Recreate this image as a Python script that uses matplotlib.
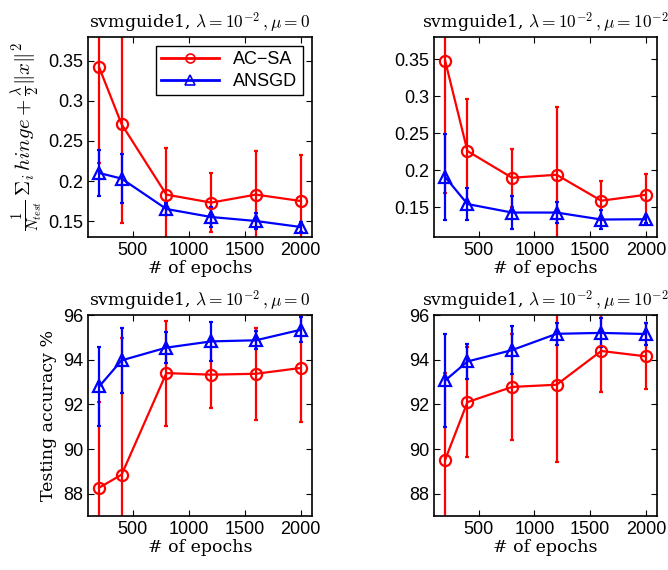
import numpy as np
import matplotlib
matplotlib.use('Agg')
import matplotlib.pyplot as plt
from matplotlib.lines import Line2D

# ----------------------------
# data
# ----------------------------
epochs = [200, 400, 800, 1200, 1600, 2000]

# objective, mu = 0
obj0_acsa      = [0.342, 0.271, 0.183, 0.173, 0.183, 0.175]
obj0_acsa_err  = [0.120, 0.124, 0.058, 0.037, 0.055, 0.058]
obj0_ansgd     = [0.210, 0.203, 0.165, 0.155, 0.150, 0.1425]
obj0_ansgd_err = [0.029, 0.031, 0.008, 0.013, 0.010, 0.006]

# objective, mu = 1e-2
obj1_acsa      = [0.348, 0.226, 0.190, 0.194, 0.159, 0.167]
obj1_acsa_err  = [0.178, 0.070, 0.039, 0.092, 0.026, 0.028]
obj1_ansgd     = [0.191, 0.1545, 0.143, 0.143, 0.1336, 0.134]
obj1_ansgd_err = [0.058, 0.021, 0.022, 0.014, 0.013, 0.005]

# accuracy, mu = 0
acc0_acsa      = [88.27, 88.85, 93.40, 93.33, 93.37, 93.63]
acc0_acsa_err  = [3.83, 6.10, 2.35, 1.50, 2.07, 2.40]
acc0_ansgd     = [92.80, 93.97, 94.54, 94.82, 94.87, 95.34]
acc0_ansgd_err = [1.75, 1.45, 0.70, 0.88, 0.40, 0.55]

# accuracy, mu = 1e-2
acc1_acsa      = [89.52, 92.10, 92.78, 92.88, 94.39, 94.15]
acc1_acsa_err  = [3.88, 2.45, 2.38, 3.46, 1.84, 1.48]
acc1_ansgd     = [93.07, 93.92, 94.43, 95.16, 95.20, 95.15]
acc1_ansgd_err = [2.10, 0.80, 1.08, 0.50, 0.65, 0.50]

titles = [r'svmguide1, $\lambda = 10^{-2}\,, \mu = 0$',
          r'svmguide1, $\lambda = 10^{-2}\,, \mu = 10^{-2}$']
obj_ylabel = r'$\frac{1}{N_{test}}\,\Sigma_i\, hinge + \frac{\lambda}{2}\|x\|^2$'
acc_ylabel = 'Testing accuracy %'

plt.rcParams['mathtext.fontset'] = 'cm'
plt.rcParams['font.family'] = ['Liberation Sans', 'DejaVu Sans']

fig = plt.figure(figsize=(6.68, 5.70), dpi=100)
positions = [
    [0.1317, 0.5842, 0.3353, 0.3509],
    [0.6497, 0.5842, 0.3338, 0.3509],
    [0.1317, 0.0947, 0.3353, 0.3526],
    [0.6497, 0.0947, 0.3338, 0.3526],
]
panels = [
    (obj0_acsa, obj0_acsa_err, obj0_ansgd, obj0_ansgd_err, (0.13, 0.38), [0.15, 0.2, 0.25, 0.3, 0.35], ['0.15', '0.2', '0.25', '0.3', '0.35']),
    (obj1_acsa, obj1_acsa_err, obj1_ansgd, obj1_ansgd_err, (0.11, 0.38), [0.15, 0.2, 0.25, 0.3, 0.35], ['0.15', '0.2', '0.25', '0.3', '0.35']),
    (acc0_acsa, acc0_acsa_err, acc0_ansgd, acc0_ansgd_err, (87, 96), [88, 90, 92, 94, 96], ['88', '90', '92', '94', '96']),
    (acc1_acsa, acc1_acsa_err, acc1_ansgd, acc1_ansgd_err, (87, 96), [88, 90, 92, 94, 96], ['88', '90', '92', '94', '96']),
]

red, blue = '#ff0000', '#0000ff'

for k, (pos, p) in enumerate(zip(positions, panels)):
    ya, ea, yb, eb, ylim, yt, ytl = p
    ax = fig.add_axes(pos)
    ax.errorbar(epochs, ya, yerr=ea, color=red, lw=1.6, marker='o', ms=8,
                mfc='none', mew=1.6, capsize=1.5, capthick=1.6, elinewidth=1.6)
    ax.errorbar(epochs, yb, yerr=eb, color=blue, lw=1.6, marker='^', ms=8.5,
                mfc='none', mew=1.6, capsize=1.5, capthick=1.6, elinewidth=1.6)
    ax.set_xlim(100, 2100)
    ax.set_ylim(*ylim)
    ax.set_xticks([500, 1000, 1500, 2000])
    ax.set_yticks(yt)
    ax.set_yticklabels(ytl)
    ax.tick_params(direction='in', top=True, right=True, labelsize=13, length=4)
    ax.set_xlabel('# of epochs', family='DejaVu Serif', fontsize=12.5, labelpad=1)
    ax.set_title(titles[k % 2], family='DejaVu Serif', fontsize=12.5, pad=6)
    for s in ax.spines.values():
        s.set_linewidth(1.2)
    if k == 0:
        ax.set_ylabel(obj_ylabel, fontsize=15, labelpad=2)
        handles = [
            Line2D([], [], color=red, lw=2, marker='o', ms=6.5, mfc='none', mew=1.2),
            Line2D([], [], color=blue, lw=2, marker='^', ms=6.5, mfc='none', mew=1.2),
        ]
        leg = ax.legend(handles, ['AC\u2212SA', 'ANSGD'], loc='upper right',
                        fontsize=13, handlelength=3.2,
                        fancybox=False, edgecolor='black', framealpha=1,
                        borderpad=0.3, labelspacing=0.25)
        leg.get_frame().set_linewidth(1.0)
    if k == 2:
        ax.set_ylabel(acc_ylabel, family='DejaVu Serif', fontsize=12.5, labelpad=4)

fig.savefig('out.png', dpi=100)
